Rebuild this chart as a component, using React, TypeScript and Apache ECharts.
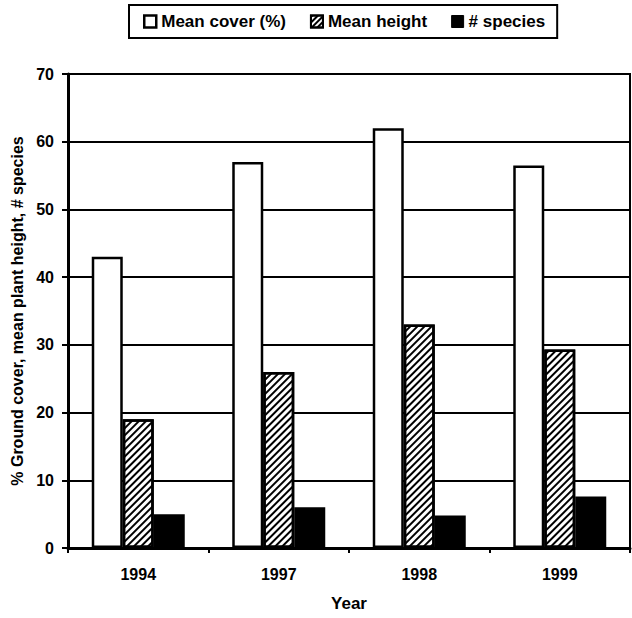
import React, { useEffect, useRef } from "react";
import * as echarts from "echarts";

const years = ["1994", "1997", "1998", "1999"];
const meanCover = [43, 57, 62, 56.5];
const meanHeight = [19, 26, 33, 29.3];
const species = [5, 6, 4.8, 7.6];
const seriesNames = ["Mean cover (%)", "Mean height", "# species"];
const yAxisName = "% Ground cover, mean plant height, # species";
const xAxisName = "Year";

const FONT = "Liberation Sans, Arial, sans-serif";

export default function App() {
  const ref = useRef<HTMLDivElement>(null);
  useEffect(() => {
    if (!ref.current) return;
    const chart = echarts.init(ref.current, null, { renderer: "svg" });
    const hatch = {
      symbol: "rect",
      symbolSize: 1,
      dashArrayX: [1, 0],
      dashArrayY: [2, 3],
      rotation: -Math.PI / 4,
      color: "#000",
      backgroundColor: "#fff",
    };
    const coverStyle = { color: "#fff", borderColor: "#000", borderWidth: 2.5 };
    const heightStyle = { color: "#fff", borderColor: "#000", borderWidth: 2.5, decal: hatch };
    const speciesStyle = { color: "#000", borderColor: "#000", borderWidth: 2.5 };
    chart.setOption({
      animation: false,
      backgroundColor: "#fff",
      textStyle: { fontFamily: FONT, fontWeight: "bold", color: "#000" },
      legend: {
        left: 129,
        top: 5,
        padding: [8, 12, 8, 14],
        borderColor: "#000",
        borderWidth: 2,
        itemWidth: 12,
        itemHeight: 12,
        itemGap: 24,
        icon: "rect",
        textStyle: { fontFamily: FONT, fontWeight: "bold", fontSize: 17, color: "#000" },
        data: [
          { name: seriesNames[0], itemStyle: { color: "#fff", borderColor: "#000", borderWidth: 2.5 } },
          { name: seriesNames[1], itemStyle: { color: "#fff", borderColor: "#000", borderWidth: 2, decal: { ...hatch, dashArrayY: [1.5, 2] } } },
          { name: seriesNames[2], itemStyle: { color: "#000", borderColor: "#000", borderWidth: 1 } },
        ],
      },
      grid: {
        left: 68,
        right: 2,
        top: 74,
        bottom: 70,
        show: true,
        borderColor: "#000",
        borderWidth: 2,
        backgroundColor: "transparent",
      },
      xAxis: {
        type: "category",
        data: years,
        name: xAxisName,
        nameLocation: "middle",
        nameGap: 47,
        nameTextStyle: { fontFamily: FONT, fontWeight: "bold", fontSize: 17, color: "#000" },
        axisLine: { lineStyle: { color: "#000", width: 3 } },
        axisTick: { show: true, length: 5, lineStyle: { color: "#000", width: 2 } },
        axisLabel: { margin: 18, fontFamily: FONT, fontWeight: "bold", fontSize: 16, color: "#000" },
      },
      yAxis: {
        type: "value",
        min: 0,
        max: 70,
        interval: 10,
        name: yAxisName,
        nameLocation: "middle",
        nameGap: 42,
        nameRotate: 90,
        nameTextStyle: { fontFamily: FONT, fontWeight: "bold", fontSize: 16, color: "#000" },
        axisLine: { show: true, lineStyle: { color: "#000", width: 3 } },
        axisTick: { show: true, length: 6, lineStyle: { color: "#000", width: 2 } },
        axisLabel: { margin: 14, fontFamily: FONT, fontWeight: "bold", fontSize: 16, color: "#000" },
        splitLine: { show: true, lineStyle: { color: "#000", width: 2 } },
      },
      series: [
        { name: seriesNames[0], type: "bar", data: meanCover, barWidth: 31, barGap: "0%", itemStyle: coverStyle },
        { name: seriesNames[1], type: "bar", data: meanHeight, barWidth: 31, barGap: "0%", itemStyle: heightStyle },
        { name: seriesNames[2], type: "bar", data: species, barWidth: 31, barGap: "0%", itemStyle: speciesStyle },
      ],
    });
    return () => chart.dispose();
  }, []);
  return <div ref={ref} style={{ width: 632, height: 618, position: "absolute", left: 0, top: 0 }} />;
}
